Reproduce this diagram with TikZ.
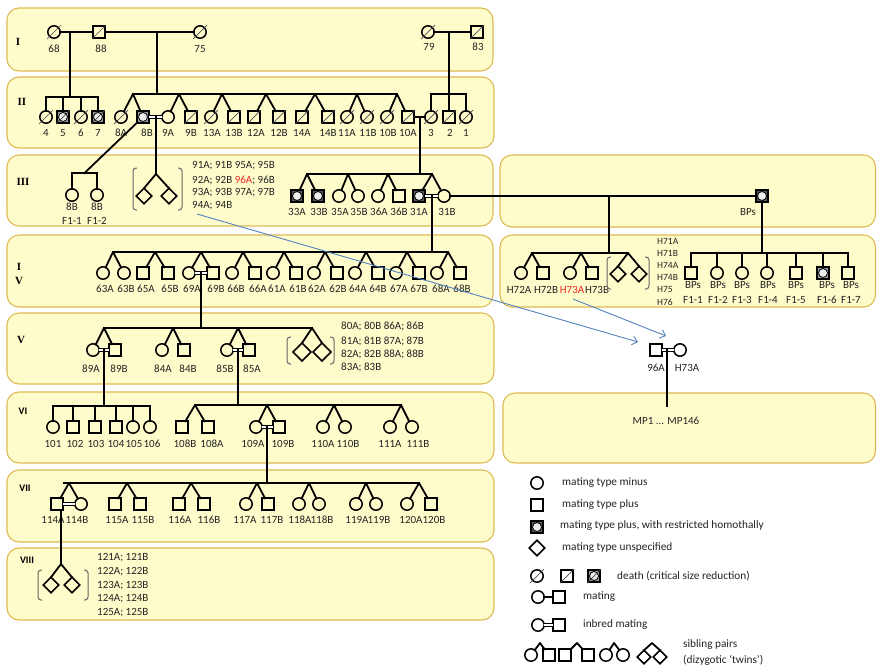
\documentclass[tikz,border=0pt]{standalone}
\usepackage{fontspec}
\setmainfont{Carlito}
\newfontfamily\romfont{Liberation Serif}
\usetikzlibrary{shapes.geometric,calc,arrows.meta}
\definecolor{boxfill}{RGB}{255,252,204}
\definecolor{boxline}{RGB}{222,186,82}
\definecolor{rhgray}{RGB}{90,90,90}
\definecolor{rhin}{RGB}{236,236,236}
\definecolor{arrowblue}{RGB}{84,130,190}
\definecolor{txt}{RGB}{35,35,35}
\definecolor{redtxt}{RGB}{240,40,40}
\tikzset{
  rowbox/.style={draw=boxline, fill=boxfill, line width=1.1pt, rounded corners=12pt},
  sym/.style={draw=black, line width=1.5pt, inner sep=0pt, outer sep=0pt},
  minus/.style={sym, circle, minimum size=12.4pt},
  plus/.style={sym, rectangle, minimum size=11.6pt},
  rh/.style={plus, fill=rhgray, path picture={\draw[black, line width=0.8pt, fill=rhin] (path picture bounding box.center) circle (4.5pt);}},
  rhl/.style={rh, fill=rhgray!60},
  unsp/.style={sym, diamond, minimum size=15.5pt},
  unspb/.style={sym, diamond, minimum size=18pt},
  unsps/.style={sym, diamond, minimum size=13.5pt},
  ped/.style={line width=1.8pt, line join=round, line cap=rect},
  inbred/.style={line width=1.1pt, double=white, double distance=1.6pt},
  deadln/.style={draw=black!70, line width=0.7pt},
  brk/.style={draw=black!60, line width=1pt, rounded corners=3pt},
  lbl/.style={font=\fontsize{11}{12}\selectfont, text=txt, inner sep=0pt},
  lblw/.style={lbl, anchor=west},
  smalll/.style={font=\fontsize{9.5}{11}\selectfont, text=txt, inner sep=0pt, anchor=west},
  leg/.style={font=\fontsize{11.3}{12}\selectfont, text=txt, inner sep=0pt, anchor=west},
  rom/.style={font=\romfont\bfseries\fontsize{11}{12}\selectfont, inner sep=0pt},
  roms/.style={font=\bfseries\fontsize{10}{12}\selectfont, inner sep=0pt},
  bluearrow/.style={draw=arrowblue, line width=0.9pt, -{Straight Barb[length=5pt,width=9pt]}},
}
\newcommand\ind[7]{\node[#1] (#2) at (#3,#4) {};\node[lbl] (#2t) at (#5,#6) {#7};}
\newcommand\dm[1]{\draw[deadln] ($(#1)+(-7,7)$) -- ($(#1)+(7,-7)$);}
\newcommand\twin[3]{\draw[ped] (#2) -- (#1) -- (#3);}
\newcommand\drop[2]{\draw[ped] (#1 |- #2) -- (#1);}
\newcommand\lbr[3]{\draw[brk] ({#1+4},#2) -- (#1,#2) -- (#1,#3) -- ({#1+4},#3);}
\newcommand\rbr[3]{\draw[brk] ({#1-4},#2) -- (#1,#2) -- (#1,#3) -- ({#1-4},#3);}
\begin{document}
\begin{tikzpicture}[x=1pt,y=-1pt]
\useasboundingbox (0,0) rectangle (877,667);
% row boxes
\draw[rowbox] (7,8) rectangle (493,71);
\draw[rowbox] (7,77) rectangle (494,148);
\draw[rowbox] (7,155) rectangle (493,226);
\draw[rowbox] (500,155) rectangle (875.5,227);
\draw[rowbox] (7,235) rectangle (493,307);
\draw[rowbox] (500,235) rectangle (875.5,307);
\draw[rowbox] (7,313) rectangle (494,384);
\draw[rowbox] (7,392) rectangle (494,463);
\draw[rowbox] (503,393) rectangle (875.5,463);
\draw[rowbox] (7,470) rectangle (494,542);
\draw[rowbox] (7,548) rectangle (494,620);
% row labels
\node[rom] (r1) at (18,42) {I};
\node[rom] (r2) at (22,102) {II};
\node[rom] (r3) at (23,182) {III};
\node[rom] (r4a) at (19,267) {I};
\node[rom] (r4b) at (19,281) {V};
\node[rom] (r5) at (21,340) {V};
\node[roms] (r6) at (23,411) {VI};
\node[roms] (r7) at (25,488) {VII};
\node[roms] (r8) at (27,560) {VIII};

% ---------- Row I
\ind{minus}{n68}{54}{32}{54}{49}{68}
\ind{plus}{n88}{99}{32}{101}{49}{88}
\ind{minus}{n75}{200}{32}{200}{49}{75}
\ind{minus}{n79}{428}{32}{429}{47}{79}
\ind{plus}{n83}{477}{32}{478}{47}{83}
\dm{n68}\dm{n88}\dm{n75}\dm{n79}\dm{n83}
\draw[ped] (n68) -- (n88);
\draw[ped] (n88) -- (n75);
\draw[ped] (n79) -- (n83);
\coordinate (m68) at (70,32); \coordinate (b2a) at (70,97); \draw[ped] (m68) -- (b2a);
\coordinate (m88) at (157,32); \coordinate (b2b) at (157,94); \draw[ped] (m88) -- (b2b);
\coordinate (m79) at (449,32); \coordinate (b2c) at (449,94); \draw[ped] (m79) -- (b2c);

% ---------- Row II
\ind{minus}{n4}{46}{117}{46}{133}{4}
\ind{rhl}{n5}{63}{117}{63}{133}{5}
\ind{minus}{n6}{81}{117}{81}{133}{6}
\ind{rhl}{n7}{98}{117}{98}{133}{7}
\dm{n4}\dm{n5}\dm{n6}\dm{n7}
\draw[ped] (n4 |- b2a) -- (n7 |- b2a);
\drop{n4}{b2a}\drop{n5}{b2a}\drop{n6}{b2a}\drop{n7}{b2a}

\coordinate (a8) at (133,94); \coordinate (a9) at (179,94); \coordinate (a13) at (222,94);
\coordinate (a12) at (266,94); \coordinate (a14) at (315,94); \coordinate (a11) at (357,94);
\coordinate (a10) at (397,94);
\draw[ped] (a8) -- (a10);
\ind{minus}{n8A}{121}{117}{121}{133}{8A}
\ind{rhl}{n8B}{143}{117}{147}{133}{8B}
\ind{minus}{n9A}{168}{117}{168}{133}{9A}
\ind{plus}{n9B}{191}{117}{191}{133}{9B}
\ind{minus}{n13A}{211}{117}{212}{133}{13A}
\ind{plus}{n13B}{234}{117}{234}{133}{13B}
\ind{plus}{n12A}{254}{117}{256}{133}{12A}
\ind{plus}{n12B}{279}{117}{279}{133}{12B}
\ind{plus}{n14A}{302}{117}{302}{133}{14A}
\ind{plus}{n14B}{328}{117}{328}{133}{14B}
\ind{minus}{n11A}{347}{117}{347}{133}{11A}
\ind{minus}{n11B}{367}{117}{368}{133}{11B}
\ind{minus}{n10B}{387}{117}{388}{133}{10B}
\ind{plus}{n10A}{408}{117}{408}{133}{10A}
\dm{n8A}\dm{n9B}\dm{n13A}\dm{n13B}\dm{n12A}\dm{n12B}\dm{n14A}\dm{n14B}\dm{n11A}\dm{n11B}\dm{n10B}\dm{n10A}
\twin{a8}{n8A}{n8B}\twin{a9}{n9A}{n9B}\twin{a13}{n13A}{n13B}\twin{a12}{n12A}{n12B}
\twin{a14}{n14A}{n14B}\twin{a11}{n11A}{n11B}\twin{a10}{n10B}{n10A}
\draw[inbred] (n8B) -- (n9A);
\coordinate (m8) at (156,117); \coordinate (a3d) at (156,174); \draw[ped] (m8) -- (a3d);

\ind{minus}{n3}{431}{117}{431}{133}{3}
\ind{plus}{n2}{449}{117}{450}{133}{2}
\ind{minus}{n1}{466}{117}{466}{133}{1}
\dm{n3}\dm{n2}\dm{n1}
\draw[ped] (n3 |- b2c) -- (n1 |- b2c);
\drop{n3}{b2c}\drop{n2}{b2c}\drop{n1}{b2c}
\draw[ped] (n10A) -- (n3);
\coordinate (m10) at (420,117); \coordinate (b3r) at (420,174); \draw[ped] (m10) -- (b3r);

% ---------- Row III
\coordinate (f1m) at (84.5,173);
\draw[ped] (n8B) -- (f1m);
\ind{minus}{n8Ba}{72}{195}{72}{207}{8B}
\node[lbl] (n8Baf) at (72,221) {F1-1};
\ind{minus}{n8Bb}{97}{195}{97}{207}{8B}
\node[lbl] (n8Bbf) at (97,221) {F1-2};
\draw[ped] (n8Ba |- f1m) -- (n8Bb |- f1m);
\drop{n8Ba}{f1m}\drop{n8Bb}{f1m}

\node[unsp] (d3a) at (144,196) {};
\node[unsp] (d3b) at (169,196) {};
\draw[ped] (d3a.north) -- (a3d) -- (d3b.north);
\lbr{133}{168}{210}\rbr{182}{168}{210}
\node[lblw] (t3a) at (192,166) {91A; 91B 95A; 95B};
\node[lblw] (t3b) at (192,180) {92A; 92B \textcolor{redtxt}{96A}; 96B};
\node[lblw] (t3c) at (192,193) {93A; 93B 97A; 97B};
\node[lblw] (t3d) at (192,206) {94A; 94B};

\coordinate (a33) at (307,174); \coordinate (a35) at (348,174);
\coordinate (a36) at (388,174); \coordinate (a31) at (432,174);
\draw[ped] (a33) -- (a31);
\ind{rh}{n33A}{297}{196}{297}{212}{33A}
\ind{rh}{n33B}{318}{196}{319}{212}{33B}
\ind{minus}{n35A}{339}{196}{340}{212}{35A}
\ind{minus}{n35B}{358}{196}{359}{212}{35B}
\ind{minus}{n36A}{378}{196}{379}{212}{36A}
\ind{plus}{n36B}{399}{196}{399}{212}{36B}
\ind{rh}{n31A}{419}{196}{419}{212}{31A}
\ind{minus}{n31B}{444}{196}{447}{212}{31B}
\twin{a33}{n33A}{n33B}\twin{a35}{n35A}{n35B}\twin{a36}{n36A}{n36B}\twin{a31}{n31A}{n31B}
\draw[inbred] (n31A) -- (n31B);
\coordinate (m31) at (432,196); \coordinate (b4a) at (432,252); \draw[ped] (m31) -- (b4a);

\node[rh] (nBPs) at (762,196) {};
\node[lbl] (nBPst) at (748,212) {BPs};
\draw[ped] (n31B) -- (nBPs);
\coordinate (m31r) at (609,196); \coordinate (b4r) at (609,253); \draw[ped] (m31r) -- (b4r);
\coordinate (bps4) at (762,253); \draw[ped] (nBPs) -- (bps4);

% ---------- Row IV left
\coordinate (a63) at (113,252); \coordinate (a65) at (155,252); \coordinate (a69) at (201,252);
\coordinate (a66) at (243,252); \coordinate (a61) at (284,252); \coordinate (a62) at (325,252);
\coordinate (a64) at (366,252); \coordinate (a67) at (407,252); \coordinate (a68) at (448,252);
\draw[ped] (a63) -- (a68);
\ind{minus}{n63A}{103}{273}{105}{289}{63A}
\ind{minus}{n63B}{124}{273}{126}{289}{63B}
\ind{plus}{n65A}{143}{273}{146}{289}{65A}
\ind{plus}{n65B}{168}{273}{170}{289}{65B}
\ind{minus}{n69A}{189}{273}{192}{289}{69A}
\ind{plus}{n69B}{213}{273}{216}{289}{69B}
\ind{minus}{n66B}{232}{273}{236}{289}{66B}
\ind{plus}{n66A}{255}{273}{258}{289}{66A}
\ind{minus}{n61A}{273}{273}{277}{289}{61A}
\ind{plus}{n61B}{296}{273}{298}{289}{61B}
\ind{minus}{n62A}{314}{273}{317}{289}{62A}
\ind{plus}{n62B}{337}{273}{338}{289}{62B}
\ind{minus}{n64A}{355}{273}{358}{289}{64A}
\ind{plus}{n64B}{378}{273}{378}{289}{64B}
\ind{minus}{n67A}{396}{273}{399}{289}{67A}
\ind{plus}{n67B}{419}{273}{419}{289}{67B}
\ind{minus}{n68A}{437}{273}{441}{289}{68A}
\ind{plus}{n68B}{460}{273}{462}{289}{68B}
\twin{a63}{n63A}{n63B}\twin{a65}{n65A}{n65B}\twin{a69}{n69A}{n69B}
\twin{a66}{n66B}{n66A}\twin{a61}{n61A}{n61B}\twin{a62}{n62A}{n62B}
\twin{a64}{n64A}{n64B}\twin{a67}{n67A}{n67B}\twin{a68}{n68A}{n68B}
\draw[inbred] (n69A) -- (n69B);
\coordinate (m69) at (201,273); \coordinate (b5) at (201,328); \draw[ped] (m69) -- (b5);

% ---------- Row IV right
\coordinate (aH72) at (532,253); \coordinate (aH73) at (581,253); \coordinate (aHd) at (628,253);
\draw[ped] (aH72) -- (aHd);
\ind{minus}{nH72A}{521}{273}{519}{290}{H72A}
\ind{plus}{nH72B}{543}{273}{546}{290}{H72B}
\ind{minus}{nH73A}{570}{273}{572}{290}{\textcolor{redtxt}{H73A}}
\ind{plus}{nH73B}{592}{273}{597}{290}{H73B}
\twin{aH72}{nH72A}{nH72B}\twin{aH73}{nH73A}{nH73B}
\node[unsp] (dH1) at (618,274) {};
\node[unsp] (dH2) at (639,274) {};
\draw[ped] (dH1.north) -- (aHd) -- (dH2.north);
\lbr{607}{257}{289}\rbr{649}{257}{289}
\node[smalll] (th1) at (657,241) {H71A};
\node[smalll] (th2) at (657,253) {H71B};
\node[smalll] (th3) at (657,265) {H74A};
\node[smalll] (th4) at (657,277) {H74B};
\node[smalll] (th5) at (657,289) {H75};
\node[smalll] (th6) at (657,302) {H76};

\node[plus] (nF1) at (691,273) {};
\node[minus] (nF2) at (717,273) {};
\node[minus] (nF3) at (742,273) {};
\node[minus] (nF4) at (767,273) {};
\node[plus] (nF5) at (796,273) {};
\node[rhl] (nF6) at (823,273) {};
\node[plus] (nF7) at (848,273) {};
\draw[ped] (nF1 |- bps4) -- (nF7 |- bps4);
\drop{nF1}{bps4}\drop{nF2}{bps4}\drop{nF3}{bps4}\drop{nF4}{bps4}\drop{nF5}{bps4}\drop{nF6}{bps4}\drop{nF7}{bps4}
\node[lbl] (nF1a) at (693,285) {BPs}; \node[lbl] (nF1b) at (693,300) {F1-1};
\node[lbl] (nF2a) at (718,285) {BPs}; \node[lbl] (nF2b) at (718,300) {F1-2};
\node[lbl] (nF3a) at (742,285) {BPs}; \node[lbl] (nF3b) at (742,300) {F1-3};
\node[lbl] (nF4a) at (768,285) {BPs}; \node[lbl] (nF4b) at (768,300) {F1-4};
\node[lbl] (nF5a) at (796,285) {BPs}; \node[lbl] (nF5b) at (796,300) {F1-5};
\node[lbl] (nF6a) at (827,285) {BPs}; \node[lbl] (nF6b) at (827,300) {F1-6};
\node[lbl] (nF7a) at (851,285) {BPs}; \node[lbl] (nF7b) at (851,300) {F1-7};

% 96A x H73A
\ind{plus}{n96A}{656}{350}{656}{368}{96A}
\ind{minus}{nH73Ax}{680}{350}{687}{368}{H73A}
\draw[inbred] (n96A) -- (nH73Ax);
\coordinate (m96) at (667,350); \coordinate (mpt) at (667,406); \draw[ped] (m96) -- (mpt);
\node[lbl] (mp) at (666,421) {MP1 ... MP146};

% ---------- Row V
\coordinate (a89) at (104,328); \coordinate (a84) at (173,328);
\coordinate (a85) at (238,328); \coordinate (a5d) at (312,328);
\draw[ped] (a89) -- (a5d);
\ind{minus}{n89A}{93}{350}{91}{369}{89A}
\ind{plus}{n89B}{115}{350}{119}{369}{89B}
\ind{minus}{n84A}{162}{350}{163}{369}{84A}
\ind{plus}{n84B}{184}{350}{188}{369}{84B}
\ind{minus}{n85B}{227}{350}{225}{369}{85B}
\ind{plus}{n85A}{249}{350}{252}{369}{85A}
\twin{a89}{n89A}{n89B}\twin{a84}{n84A}{n84B}\twin{a85}{n85B}{n85A}
\node[unspb] (d5a) at (302,352) {};
\node[unspb] (d5b) at (322,352) {};
\draw[ped] (d5a.north) -- (a5d) -- (d5b.north);
\lbr{287}{337}{364}\rbr{334}{337}{364}
\node[lblw] (t5a) at (341,326) {80A; 80B 86A; 86B};
\node[lblw] (t5b) at (341,341) {81A; 81B 87A; 87B};
\node[lblw] (t5c) at (341,354) {82A; 82B 88A; 88B};
\node[lblw] (t5d) at (341,367) {83A; 83B};
\draw[inbred] (n89A) -- (n89B);
\coordinate (m89) at (104,350); \coordinate (b6a) at (104,406); \draw[ped] (m89) -- (b6a);
\draw[inbred] (n85B) -- (n85A);
\coordinate (m85) at (238,350); \coordinate (b6b) at (238,405); \draw[ped] (m85) -- (b6b);

% ---------- Row VI
\ind{minus}{n101}{53}{427}{53}{444}{101}
\ind{plus}{n102}{73}{427}{75}{444}{102}
\ind{plus}{n103}{95}{427}{96}{444}{103}
\ind{plus}{n104}{116}{427}{116}{444}{104}
\ind{minus}{n105}{133}{427}{134}{444}{105}
\ind{minus}{n106}{150}{427}{152}{444}{106}
\draw[ped] (n101 |- b6a) -- (n106 |- b6a);
\drop{n101}{b6a}\drop{n102}{b6a}\drop{n103}{b6a}\drop{n104}{b6a}\drop{n105}{b6a}\drop{n106}{b6a}

\coordinate (a108) at (195,405); \coordinate (a109) at (267,405);
\coordinate (a110) at (334,405); \coordinate (a111) at (401,405);
\draw[ped] (a108) -- (a111);
\ind{plus}{n108B}{182}{427}{185}{444}{108B}
\ind{plus}{n108A}{208}{427}{212}{444}{108A}
\ind{minus}{n109A}{256}{427}{253}{444}{109A}
\ind{plus}{n109B}{279}{427}{283}{444}{109B}
\ind{minus}{n110A}{323}{427}{323}{444}{110A}
\ind{minus}{n110B}{345}{427}{348}{444}{110B}
\ind{minus}{n111A}{390}{427}{390}{444}{111A}
\ind{minus}{n111B}{412}{427}{418}{444}{111B}
\twin{a108}{n108B}{n108A}\twin{a109}{n109A}{n109B}\twin{a110}{n110A}{n110B}\twin{a111}{n111A}{n111B}
\draw[inbred] (n109A) -- (n109B);
\coordinate (m109) at (267,427); \coordinate (b7) at (267,483); \draw[ped] (m109) -- (b7);

% ---------- Row VII
\coordinate (b7L) at (64,483);
\coordinate (a114) at (69,483); \coordinate (a115) at (127,483); \coordinate (a116) at (191,483);
\coordinate (a117) at (257,483); \coordinate (a118) at (309,483); \coordinate (a119) at (366,483);
\coordinate (a120) at (419,483);
\draw[ped] (b7L) -- (a120);
\ind{plus}{n114A}{57}{504}{53}{520}{114A}
\ind{minus}{n114B}{81}{504}{77}{520}{114B}
\ind{plus}{n115A}{115}{504}{117}{520}{115A}
\ind{plus}{n115B}{140}{504}{143}{520}{115B}
\ind{plus}{n116A}{179}{504}{180}{520}{116A}
\ind{plus}{n116B}{204}{504}{209}{520}{116B}
\ind{minus}{n117A}{246}{504}{245}{520}{117A}
\ind{plus}{n117B}{268}{504}{272}{520}{117B}
\ind{minus}{n118A}{299}{504}{300}{520}{118A}
\ind{minus}{n118B}{319}{504}{322}{520}{118B}
\ind{minus}{n119A}{356}{504}{357}{520}{119A}
\ind{minus}{n119B}{376}{504}{379}{520}{119B}
\ind{minus}{n120A}{407}{504}{411}{520}{120A}
\ind{plus}{n120B}{431}{504}{434}{520}{120B}
\twin{a114}{n114A}{n114B}\twin{a115}{n115A}{n115B}\twin{a116}{n116A}{n116B}
\twin{a117}{n117A}{n117B}\twin{a118}{n118A}{n118B}\twin{a119}{n119A}{n119B}\twin{a120}{n120A}{n120B}
\draw[inbred] (n114A) -- (n114B);
\coordinate (m114) at (61,510); \coordinate (a8d) at (61,564); \draw[ped] (m114) -- (a8d);

% ---------- Row VIII
\node[unsp] (d8a) at (51,585) {};
\node[unsp] (d8b) at (72,585) {};
\draw[ped] (d8a.north) -- (a8d) -- (d8b.north);
\lbr{38}{570}{600}\rbr{88}{570}{600}
\node[lblw] (t8a) at (97,558) {121A; 121B};
\node[lblw] (t8b) at (97,572) {122A; 122B};
\node[lblw] (t8c) at (97,586) {123A; 123B};
\node[lblw] (t8d) at (97,599) {124A; 124B};
\node[lblw] (t8e) at (97,613) {125A; 125B};

% ---------- Legend
\node[minus] (lg1) at (537,483) {};
\node[leg] (lg1t) at (562,483) {mating type minus};
\node[plus] (lg2) at (537,505) {};
\node[leg] (lg2t) at (562,505) {mating type plus};
\node[rh] (lg3) at (537,527) {};
\node[leg] (lg3t) at (560,526) {mating type plus, with restricted homothally};
\node[unsp] (lg4) at (537,548) {};
\node[leg] (lg4t) at (562,548) {mating type unspecified};
\node[minus] (lg5a) at (537,576) {};
\node[plus] (lg5b) at (567,576) {};
\node[rhl] (lg5c) at (594,576) {};
\dm{lg5a}\dm{lg5b}\dm{lg5c}
\node[leg] (lg5t) at (617,576) {death (critical size reduction)};
\node[minus] (lg6a) at (538,597) {};
\node[plus] (lg6b) at (559,597) {};
\draw[ped] (lg6a) -- (lg6b);
\node[leg] (lg6t) at (583,597) {mating};
\node[minus] (lg7a) at (538,625) {};
\node[plus] (lg7b) at (559,625) {};
\draw[inbred] (lg7a) -- (lg7b);
\node[leg] (lg7t) at (583,625) {inbred mating};
\coordinate (lp1) at (540,643); \coordinate (lp2) at (577,643);
\coordinate (lp3) at (614,643); \coordinate (lp4) at (652,643);
\node[minus] (lp1a) at (531,655) {}; \node[plus] (lp1b) at (549,655) {};
\node[plus] (lp2a) at (565,655) {}; \node[plus] (lp2b) at (588,655) {};
\node[minus] (lp3a) at (606,655) {}; \node[minus] (lp3b) at (623,655) {};
\node[unsps] (lp4a) at (644,657) {}; \node[unsps] (lp4b) at (660,657) {};
\twin{lp1}{lp1a}{lp1b}\twin{lp2}{lp2a}{lp2b}\twin{lp3}{lp3a}{lp3b}
\draw[ped] (lp4a.north) -- (lp4) -- (lp4b.north);
\node[leg] (lg8t) at (683,645) {sibling pairs};
\node[leg] (lg9t) at (683,660) {(dizygotic ‘twins’)};

% ---------- blue arrows
\coordinate (bl1s) at (197,214); \coordinate (bl1e) at (638,342);
\draw[bluearrow] (bl1s) -- (bl1e);
\coordinate (bl2s) at (573,299); \coordinate (bl2e) at (666,336);
\draw[bluearrow] (bl2s) -- (bl2e);
\end{tikzpicture}
\end{document}
